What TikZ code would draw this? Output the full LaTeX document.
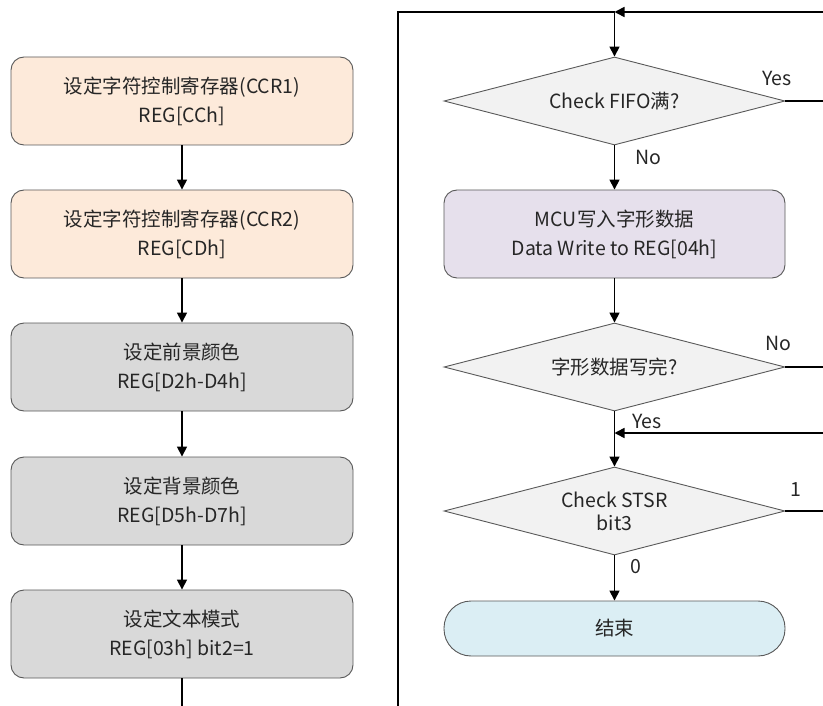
\documentclass[tikz,border=0pt]{standalone}
\usepackage{fontspec}
\setmainfont{Noto Sans CJK SC}
\usetikzlibrary{shapes.geometric,arrows.meta}
\definecolor{peach}{HTML}{FDEADA}
\definecolor{greybox}{HTML}{D9D9D9}
\definecolor{diafill}{HTML}{F2F2F2}
\definecolor{lav}{HTML}{E6E0EC}
\definecolor{endblue}{HTML}{DBEEF4}
\definecolor{edge}{HTML}{595959}
\definecolor{txt}{HTML}{262626}
\begin{document}
\begin{tikzpicture}[x=1pt,y=-1pt,
  every node/.style={font=\fontsize{19.5}{29}\selectfont, text=txt},
  procbox/.style={draw=edge, line width=0.9pt, rounded corners=13pt, minimum width=342pt, minimum height=88pt, align=center, inner sep=0pt},
  decbox/.style={draw=edge, line width=0.9pt, diamond, aspect=3.875, fill=diafill, minimum width=341pt, minimum height=88pt, inner sep=0pt, align=center},
  endbox/.style={draw=edge, line width=0.9pt, rounded corners=27pt, minimum width=341pt, minimum height=55pt, fill=endblue, inner sep=0pt},
  conn/.style={line width=1.6pt, black},
  arr/.style={conn, -{Triangle[length=10pt,width=10pt]}},
  lbl/.style={inner sep=0pt}
]
\useasboundingbox (0,0) rectangle (823,706);
% left column
\node[procbox, fill=peach] (b1) at (182,101) {设定字符控制寄存器(CCR1)\\REG[CCh]};
\node[procbox, fill=peach] (b2) at (182,234) {设定字符控制寄存器(CCR2)\\REG[CDh]};
\node[procbox, fill=greybox] (b3) at (182,367) {设定前景颜色\\REG[D2h-D4h]};
\node[procbox, fill=greybox] (b4) at (182,501) {设定背景颜色\\REG[D5h-D7h]};
\node[procbox, fill=greybox] (b5) at (182,634) {设定文本模式\\REG[03h] bit2=1};
\coordinate (b5out) at (182,706);
\draw[arr] (b1.south) -- (b2.north);
\draw[arr] (b2.south) -- (b3.north);
\draw[arr] (b3.south) -- (b4.north);
\draw[arr] (b4.south) -- (b5.north);
\draw[conn] (b5.south) -- (b5out);
% right column
\node[decbox] (d1) at (614.5,101) {Check FIFO满?};
\node[procbox, fill=lav, minimum width=341pt] (mcu) at (614.5,234) {MCU写入字形数据\\Data Write to REG[04h]};
\node[decbox] (d2) at (614.5,367) {字形数据写完?};
\node[decbox, font=\fontsize{19.5}{23}\selectfont] (d3) at (614.5,511) {Check STSR\\bit3};
\node[endbox] (end) at (614.5,628.5) {结束};
% loop lines
\coordinate (inB) at (398,706);
\coordinate (inTL) at (398,12);
\coordinate (inTR) at (823,12);
\coordinate (j1) at (614.5,12);
\coordinate (yesR) at (823,101);
\coordinate (noR) at (823,367);
\coordinate (retR) at (823,433);
\coordinate (j2) at (614.5,433);
\coordinate (oneR) at (823,511);
\draw[arr] (inTR) -- (j1);
\draw[conn] (j1) -- (inTL) -- (inB);
\draw[arr] (j1) -- (d1.north);
\draw[conn] (d1.east) -- (yesR);
\draw[arr] (d1.south) -- (mcu.north);
\draw[arr] (mcu.south) -- (d2.north);
\draw[conn] (d2.east) -- (noR);
\draw[arr] (d2.south) -- (d3.north);
\draw[arr] (retR) -- (j2);
\draw[conn] (d3.east) -- (oneR);
\draw[arr] (d3.south) -- (end.north);
% labels
\node[lbl] (lyes1) at (777,78) {Yes};
\node[lbl] (lno1) at (648,157) {No};
\node[lbl] (lno2) at (778,343) {No};
\node[lbl] (lyes2) at (647,421) {Yes};
\node[lbl] (lone) at (796,490) {1};
\node[lbl] (lzero) at (636,567) {0};
\end{tikzpicture}
\end{document}
